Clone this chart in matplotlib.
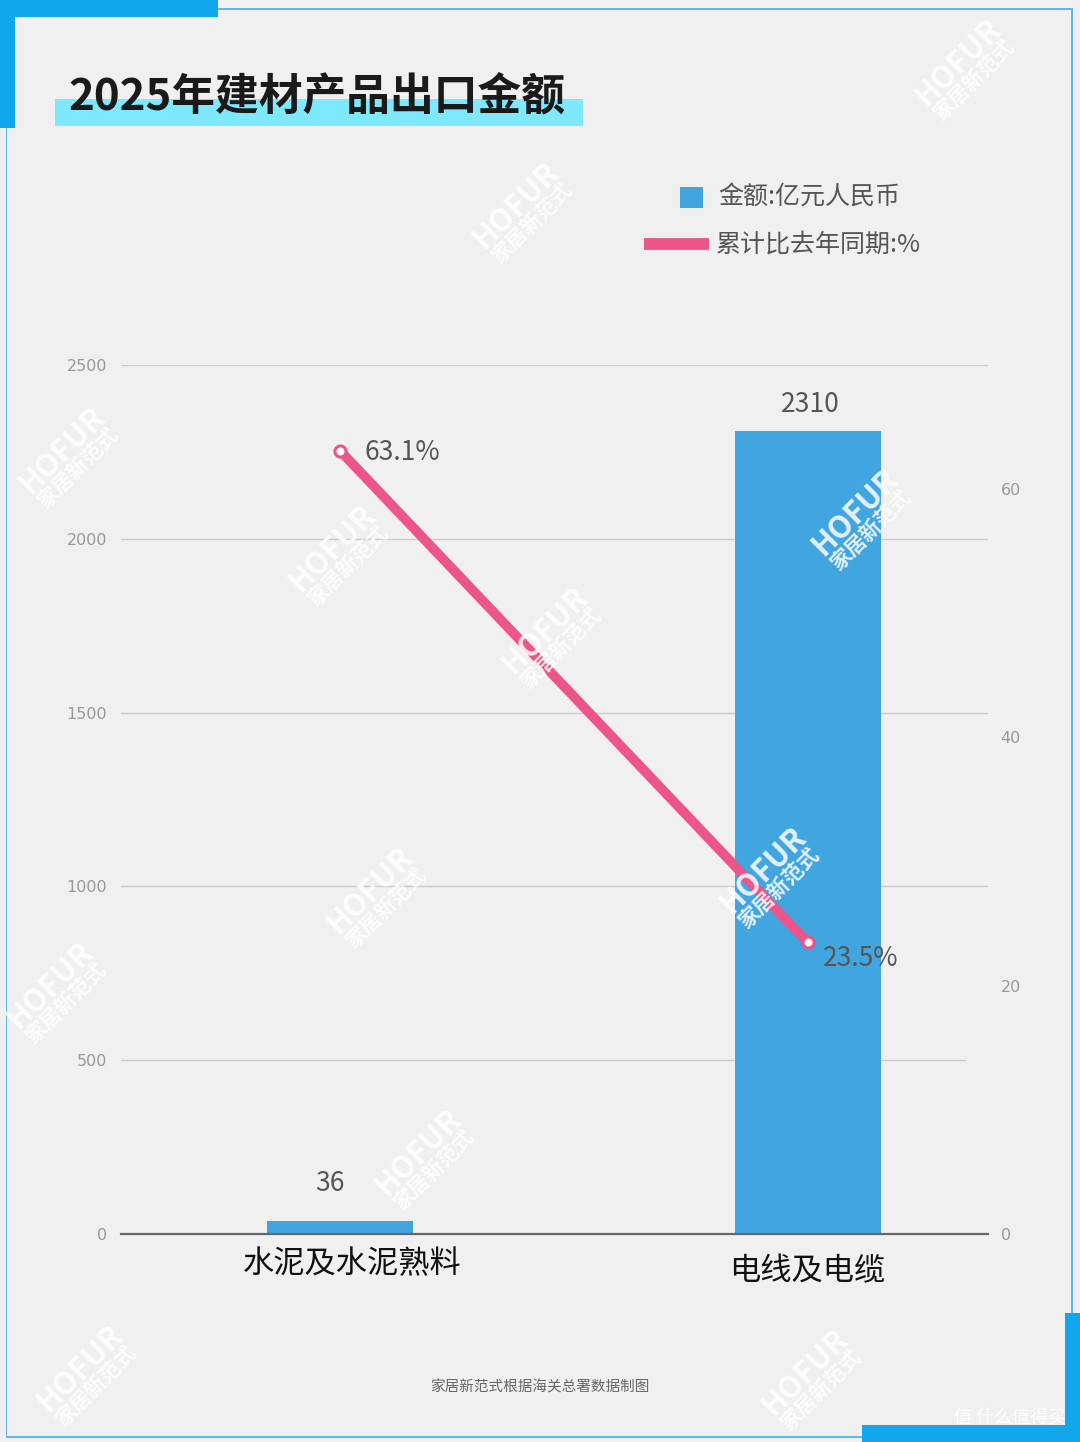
"""
2025年建材产品出口金额 — 柱状图 + 折线图（双轴）
"""
import matplotlib
matplotlib.use("Agg")
import matplotlib.pyplot as plt
from matplotlib.patches import Rectangle
from matplotlib.lines import Line2D

# 数据
categories = ["水泥及水泥熟料", "电线及电缆"]
amounts = [36, 2310]          # 金额: 亿元人民币
growth = [63.1, 23.5]         # 累计比去年同期: %
left_ticks = [0, 500, 1000, 1500, 2000, 2500]
right_ticks = [0, 20, 40, 60]

W, H = 1080, 1442
BG = "#f0f0f0"
BAR_BLUE = "#41a5e0"
PINK = "#ec5589"
DECO_BLUE = "#12a6ec"
CJK = ["Noto Sans CJK SC", "DejaVu Sans"]

plt.rcParams["font.family"] = CJK


def fx(x):
    return x / W


def fy(y):
    return 1 - y / H


fig = plt.figure(figsize=(W / 100, H / 100), dpi=100)
fig.patch.set_facecolor(BG)

# Рамка и декоративные полосы
def rect(x0, y0, x1, y1, color, z=0):
    fig.add_artist(Rectangle((fx(x0), fy(y1)), fx(x1 - x0), (y1 - y0) / H,
                             transform=fig.transFigure, facecolor=color,
                             edgecolor="none", zorder=z))

for (x0, y0, x1, y1) in [(190, 8, 1072, 9.5), (5.5, 100, 7, 1437),
                         (1071, 8, 1072.5, 1437), (5.5, 1436, 1072, 1437.5)]:
    rect(x0, y0, x1, y1, "#5db8f0")
rect(0, 0, 218, 17, DECO_BLUE)
rect(0, 0, 14.5, 128, DECO_BLUE)
rect(1065, 1313, 1080, 1442, DECO_BLUE)
rect(862, 1425, 1080, 1442, DECO_BLUE)

# Заголовок
rect(55, 99, 583, 126, "#7ee8fd")
fig.text(fx(68), fy(97), "2025年建材产品出口金额", fontsize=31.5, fontweight="bold",
         color="#1a1a1a", ha="left", va="center")

# Легенда
rect(680, 187, 703, 208, BAR_BLUE)
fig.text(fx(718), fy(197), "金额:亿元人民币", fontsize=18, color="#555555",
         ha="left", va="center")
fig.add_artist(Line2D([fx(644), fx(709)], [fy(244), fy(244)], color=PINK,
                      linewidth=8.5, solid_capstyle="butt", transform=fig.transFigure))
fig.text(fx(716), fy(245), "累计比去年同期:%", fontsize=18, color="#555555",
         ha="left", va="center")

# Оси
ax = fig.add_axes([fx(121), fy(1234), fx(988 - 121), (1234 - 365) / H])
ax.set_facecolor("none")
unit = 467.5
ax.set_xlim((121 - 340) / unit, (988 - 340) / unit)
ax.set_ylim(0, 2500)
xs = list(range(len(categories)))
ax.bar(xs, amounts, width=146 / unit, color=BAR_BLUE, zorder=2)

ax.set_yticks(left_ticks)
ax.set_yticklabels([str(t) for t in left_ticks], family="DejaVu Sans",
                   fontsize=11.5, color="#999999")
ax.tick_params(axis="y", length=0, pad=10)
ax.set_xticks([])
for t in left_ticks[1:]:
    ax.axhline(t, color="#cccccc", linewidth=1, zorder=1,
               xmax=(965 - 121) / 867 if t == 500 else 1)
for s in ["top", "right", "left"]:
    ax.spines[s].set_visible(False)
ax.spines["bottom"].set_color("#666666")
ax.spines["bottom"].set_linewidth(1.6)
ax.spines["bottom"].set_zorder(3)

label_offsets = [(-7, 27), (2, 19)]
for x, v, off in zip(xs, amounts, label_offsets):
    ax.annotate(str(v), (x, v), textcoords="offset points", xytext=off,
                ha="center", va="center", fontsize=19, color="#555555")

# Категории
ax.text(0.027, -0.035, categories[0], transform=ax.get_xaxis_transform(),
        fontsize=22.5, color="#111111", ha="center", va="center")
ax.text(1.0, -0.043, categories[1], transform=ax.get_xaxis_transform(),
        fontsize=22.5, color="#111111", ha="center", va="center")

# Правая ось
ax2 = ax.twinx()
ax2.set_ylim(0, 70)
ax2.set_yticks(right_ticks)
ax2.set_yticklabels([str(t) for t in right_ticks], family="DejaVu Sans",
                    fontsize=11.5, color="#999999")
ax2.tick_params(axis="y", length=0, pad=9)
for s in ["top", "right", "left", "bottom"]:
    ax2.spines[s].set_visible(False)
ax2.plot(xs, growth, color=PINK, linewidth=7, solid_capstyle="round", zorder=4,
         marker="o", markersize=8, markerfacecolor="white", markeredgecolor=PINK,
         markeredgewidth=2.2)
ax2.annotate(f"{growth[0]}%", (0, growth[0]), textcoords="offset points", xytext=(18, -1.5),
             ha="left", va="center", fontsize=19, color="#555555")
ax2.annotate(f"{growth[1]}%", (1, growth[1]), textcoords="offset points", xytext=(11, -12),
             ha="left", va="center", fontsize=19, color="#555555")

# Подпись источника
fig.text(fx(540), fy(1387), "家居新范式根据海关总署数据制图", fontsize=10.5,
         color="#666666", ha="center", va="center")

# Водяные знаки
marks = [(958, 62), (516, 205), (62, 450), (332, 548), (545, 630), (855, 512),
         (763, 870), (370, 890), (50, 985), (418, 1152), (80, 1368), (805, 1372)]
for (mx, my) in marks:
    fig.text(fx(mx), fy(my), "HOFUR", fontsize=22, fontweight="bold", color="white",
             alpha=0.85, rotation=45, ha="center", va="center", zorder=10)
    fig.text(fx(mx + 16), fy(my + 18), "家居新范式", fontsize=15, fontweight="bold",
             color="white", alpha=0.85, rotation=45, ha="center", va="center", zorder=10)

fig.text(fx(1066), fy(1418), "值 什么值得买", fontsize=13, color="white",
         ha="right", va="center", zorder=11)

fig.savefig("out.png", dpi=100, facecolor=BG)
plt.close(fig)
